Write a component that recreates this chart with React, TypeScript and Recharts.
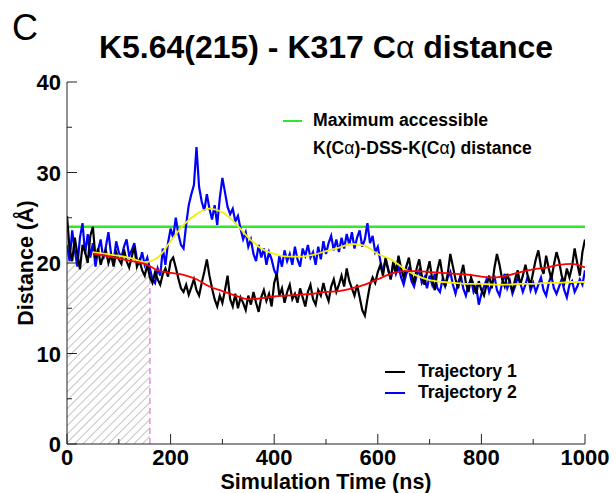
import { ComposedChart, Line, Area, XAxis, YAxis, ReferenceLine } from 'recharts';

const FONT = '"Liberation Sans", Arial, Helvetica, sans-serif';

// Cα–Cα distance (Å), sampled every 5 ns from 0 to 1000 ns
const STEP_NS = 5;

const trajectory1 = [
    25.2, 21.5, 20.2, 22.8, 21.0, 19.3, 22.0, 21.2, 20.0, 23.0, 24.0,
    20.5, 21.6, 19.8, 20.8, 21.4, 20.0, 20.9, 19.6, 21.2, 20.4, 19.9, 21.5, 20.2, 19.5, 20.7, 21.8, 19.6, 20.3, 19.2, 18.6, 19.8, 18.4,
    17.8, 19.0, 18.2, 17.6, 18.8, 19.4, 18.5, 20.2,
    20.6, 19.5, 18.3, 17.2, 16.8, 17.6, 16.5, 17.3, 18.2, 17.0, 16.4, 17.8,
    19.0, 20.4, 18.6, 17.2, 16.0, 15.2, 16.4, 15.6, 17.0, 18.6, 16.0, 15.2, 16.6, 15.0, 16.2, 15.6,
    14.8, 16.4, 15.4, 16.8, 15.6, 14.6, 16.2, 17.0, 15.8, 16.6, 15.2, 17.8, 18.8, 16.4, 17.2, 15.6, 16.8, 17.6, 16.0, 16.6,
    15.6, 17.2, 16.2, 15.2, 16.8, 17.6, 16.0, 15.4, 17.0, 16.4, 17.8, 16.6, 15.8, 17.4, 18.2, 16.8, 17.6, 18.6, 17.4, 19.4,
    18.0, 17.2, 16.4, 17.6, 16.2, 14.8, 14.2, 16.0, 17.6, 18.4, 17.8, 19.0,
    19.8, 18.6, 20.6, 19.2, 18.2, 20.2, 19.0, 20.8, 19.4, 18.4, 19.6, 20.6, 18.8, 17.8, 19.4, 20.4, 18.6, 17.6, 19.0, 20.2,
    18.2, 17.0, 19.2, 20.4, 18.6, 17.4, 18.8, 21.0, 19.6, 18.2, 17.2, 18.6, 19.8, 17.8, 16.8, 18.4, 17.6, 16.6, 18.0, 17.0,
    16.4, 17.6, 18.6, 17.2, 19.4, 21.0, 19.8, 18.2, 17.4, 18.8, 17.8, 16.8, 18.2, 19.2, 17.6, 18.6, 19.8, 18.4, 17.6, 19.0,
    20.4, 21.4, 19.6, 18.8, 20.8, 19.4, 18.2, 19.8, 21.2, 20.2, 18.6, 17.8, 19.4, 18.4, 19.6, 21.6, 20.0, 18.6, 21.2, 22.6,
];

const trajectory2 = [
    22.0, 20.2, 23.6, 21.4, 19.6, 22.8, 24.4, 21.0, 23.2, 20.6, 22.2,
    19.6, 21.4, 22.6, 20.4, 21.8, 23.4, 21.0, 20.2, 22.4, 21.2, 20.6, 21.8, 22.6, 20.8, 21.4, 22.2, 20.4, 20.0, 21.2, 19.8, 20.6, 19.4,
    18.2, 17.8, 19.4, 18.6, 21.6, 19.8, 22.2, 23.8,
    22.8, 25.0, 23.2, 22.0, 21.6, 24.2, 26.4, 27.6, 28.6, 32.8, 28.4, 26.8,
    25.8, 27.6, 26.0, 24.8, 26.4, 24.2, 27.2, 29.4, 27.8, 26.2, 25.4, 26.0, 24.6, 25.2, 23.8, 22.6,
    23.4, 21.8, 22.6, 21.0, 20.2, 22.0, 20.6, 21.6, 19.8, 21.2, 20.4, 19.2, 18.6, 20.8, 19.6, 21.4, 20.2, 21.0, 19.8, 21.8,
    20.4, 19.6, 21.6, 20.8, 22.0, 20.6, 21.2, 19.8, 21.8, 20.4, 22.4, 21.0, 22.2, 23.0, 21.4, 22.6, 21.2, 22.8, 21.6, 23.2,
    22.0, 23.4, 21.6, 22.8, 23.6, 21.8, 22.6, 24.4, 22.2, 23.0, 21.2, 21.8,
    20.2, 19.0, 20.4, 19.4, 18.2, 20.0, 18.8, 19.6, 18.4, 17.6, 18.8, 19.4, 18.0, 17.4, 18.6, 19.2, 17.8, 18.4, 17.2, 18.6,
    17.6, 18.8, 17.2, 16.8, 18.2, 17.4, 18.4, 19.0, 17.6, 16.6, 17.8, 18.6, 17.2, 16.4, 17.6, 18.2, 16.8, 17.4, 15.4, 16.6,
    17.4, 18.2, 16.8, 17.6, 18.6, 17.0, 16.4, 17.8, 18.8, 17.2, 18.0, 16.6, 17.4, 18.4, 17.8, 16.8, 17.6, 18.6, 17.0, 17.8,
    16.8, 17.6, 18.4, 17.0, 16.4, 17.8, 18.6, 17.2, 16.6, 17.4, 18.2, 17.0, 16.2, 17.6, 18.0, 16.8, 17.4, 18.2, 17.6, 19.2,
];

// running averages, every 25 ns from 50 ns
const SMOOTH_START = 50;
const SMOOTH_STEP = 25;
const smooth1 = [
    21.0, 20.8, 20.5, 20.2, 19.9, 19.2, 18.9, 18.7, 18.2, 17.4, 16.9, 16.4, 16.0,
    16.1, 16.3, 16.4, 16.5, 16.6, 16.8, 16.9, 17.2, 17.6, 18.2, 18.8, 19.1, 19.1,
    19.0, 18.9, 18.8, 18.7, 18.5, 18.4, 18.6, 19.0, 19.3, 19.5, 19.8, 19.9, 19.5,
];
const smooth2 = [
    21.2, 21.0, 20.8, 20.5, 20.1, 20.6, 22.4, 24.2, 25.4, 26.0, 25.6, 24.4, 22.8,
    21.6, 21.0, 20.7, 20.7, 20.9, 21.3, 21.7, 22.1, 21.9, 21.0, 20.4, 19.4, 18.6,
    18.1, 17.9, 17.8, 17.7, 17.7, 17.6, 17.6, 17.7, 17.7, 17.8, 17.8, 17.9, 17.9,
];

// equilibration window (shaded) and crosslinker limit
const equilTimes = [0, 40, 80, 120, 160];
const equilTop = [20.6, 20.2, 19.8, 19.3, 18.8];
const EQUIL_END = 160;
const MAX_DSS = 24;

const xTicks = [0, 100, 200, 300, 400, 500, 600, 700, 800, 900, 1000];
const yTicks = [0, 5, 10, 15, 20, 25, 30, 35, 40];

const toSeries = (values: number[], start: number, step: number) =>
    values.map((v, i) => ({ t: start + i * step, v }));

const traj1Data = toSeries(trajectory1, 0, STEP_NS);
const traj2Data = toSeries(trajectory2, 0, STEP_NS);
const smooth1Data = toSeries(smooth1, SMOOTH_START, SMOOTH_STEP);
const smooth2Data = toSeries(smooth2, SMOOTH_START, SMOOTH_STEP);
const equilData = equilTimes.map((t, i) => ({ t, v: equilTop[i] }));

const labelStyle = { fontSize: 22, fontWeight: 'bold' as const, fontFamily: FONT, fill: '#000' };

function BottomTick({ x, y, payload }: any) {
    const major = payload.value % 200 === 0;
    return (
        <g>
            <line x1={x} x2={x} y1={y} y2={y - (major ? 10 : 5)} stroke="#222" />
            {major && <text x={x} y={y + 21} textAnchor="middle" {...labelStyle}>{payload.value}</text>}
        </g>
    );
}

function TopTick({ x, y, payload }: any) {
    const major = payload.value % 200 === 0;
    return <line x1={x} x2={x} y1={y} y2={y + (major ? 10 : 5)} stroke="#222" />;
}

function LeftTick({ x, y, payload }: any) {
    const major = payload.value % 10 === 0;
    return (
        <g>
            <line x1={x} x2={x + (major ? 10 : 5)} y1={y} y2={y} stroke="#222" />
            {major && <text x={x - 6} y={y + 8} textAnchor="end" {...labelStyle}>{payload.value}</text>}
        </g>
    );
}

function RightTick({ x, y, payload }: any) {
    const major = payload.value % 10 === 0;
    return <line x1={x} x2={x - (major ? 10 : 5)} y1={y} y2={y} stroke="#222" />;
}

const textBase = { position: 'absolute' as const, fontFamily: FONT, fontWeight: 'bold' as const, color: '#000', whiteSpace: 'nowrap' as const, lineHeight: 1 };

export default function App() {
    return (
        <div style={{ position: 'absolute', left: 0, top: 0, width: 616, height: 493, background: '#fff' }}>
            <ComposedChart width={616} height={493} margin={{ top: 82, right: 31, bottom: 9, left: 7 }}>
                <defs>
                    <pattern id="hatch" width="6" height="6" patternUnits="userSpaceOnUse" patternTransform="rotate(45)">
                        <rect width="6" height="6" fill="#fff" />
                        <line x1="0" y1="0" x2="0" y2="6" stroke="#c4c4c4" strokeWidth="2" />
                    </pattern>
                </defs>
                <XAxis dataKey="t" type="number" domain={[0, 1000]} ticks={xTicks} height={40}
                    axisLine={{ stroke: '#222' }} tickLine={false} tickSize={0} tickMargin={0}
                    tick={<BottomTick />} interval={0} allowDataOverflow />
                <XAxis xAxisId="top" orientation="top" type="number" domain={[0, 1000]} ticks={xTicks} height={0}
                    axisLine={{ stroke: '#222' }} tickLine={false} tickSize={0} tickMargin={0}
                    tick={<TopTick />} interval={0} />
                <YAxis type="number" domain={[0, 40]} ticks={yTicks} width={60}
                    axisLine={{ stroke: '#222' }} tickLine={false} tickSize={0} tickMargin={0}
                    tick={<LeftTick />} interval={0} allowDataOverflow />
                <YAxis yAxisId="right" orientation="right" type="number" domain={[0, 40]} ticks={yTicks} width={0}
                    axisLine={{ stroke: '#222' }} tickLine={false} tickSize={0} tickMargin={0}
                    tick={<RightTick />} interval={0} />
                <Area data={equilData} dataKey="v" type="linear" fill="url(#hatch)" fillOpacity={1}
                    stroke="none" isAnimationActive={false} />
                <ReferenceLine y={MAX_DSS} stroke="#2ee82e" strokeWidth={2.5} />
                <ReferenceLine segment={[{ x: EQUIL_END, y: 0 }, { x: EQUIL_END, y: equilTop[equilTop.length - 1] }]}
                    stroke="#ee88ee" strokeWidth={1.5} strokeDasharray="6 4" />
                <Line data={traj2Data} dataKey="v" type="linear" stroke="#0000ff" strokeWidth={2.2}
                    dot={false} isAnimationActive={false} />
                <Line data={traj1Data} dataKey="v" type="linear" stroke="#000" strokeWidth={2.2}
                    dot={false} isAnimationActive={false} />
                <Line data={smooth2Data} dataKey="v" type="monotone" stroke="#f2ee10" strokeWidth={1.8}
                    dot={false} isAnimationActive={false} />
                <Line data={smooth1Data} dataKey="v" type="monotone" stroke="#ff0000" strokeWidth={1.8}
                    dot={false} isAnimationActive={false} />
            </ComposedChart>

            <div style={{ ...textBase, fontWeight: 'normal', fontSize: 36, left: 12, top: 10 }}>C</div>
            <div style={{ ...textBase, fontSize: 32, left: 0, width: 652, textAlign: 'center', top: 31 }}>
                K5.64(215) - K317 C<span style={{ fontWeight: 'normal' }}>α</span> distance
            </div>

            {/* crosslinker legend */}
            <svg style={{ position: 'absolute', left: 0, top: 0 }} width={616} height={493}>
                <line x1={283} x2={302} y1={121} y2={121} stroke="#2ee82e" strokeWidth={2} />
                <line x1={385} x2={405} y1={372} y2={372} stroke="#000" strokeWidth={2} />
                <line x1={385} x2={405} y1={393} y2={393} stroke="#0000ff" strokeWidth={2} />
            </svg>
            <div style={{ ...textBase, fontSize: 17.6, left: 313, top: 112 }}>Maximum accessible</div>
            <div style={{ ...textBase, fontSize: 17.6, left: 313, top: 140 }}>
                K(C<span style={{ fontWeight: 'normal' }}>α</span>)-DSS-K(C<span style={{ fontWeight: 'normal' }}>α</span>) distance
            </div>
            <div style={{ ...textBase, fontSize: 17.6, left: 418, top: 363 }}>Trajectory 1</div>
            <div style={{ ...textBase, fontSize: 17.6, left: 418, top: 384 }}>Trajectory 2</div>

            <div style={{ ...textBase, fontSize: 21.5, left: 0, width: 652, textAlign: 'center', top: 472 }}>
                Simulation Time (ns)
            </div>
            <div style={{ ...textBase, fontSize: 21.5, left: 27, top: 263, transform: 'translate(-50%, -50%) rotate(-90deg)' }}>
                Distance (Å)
            </div>
        </div>
    );
}
